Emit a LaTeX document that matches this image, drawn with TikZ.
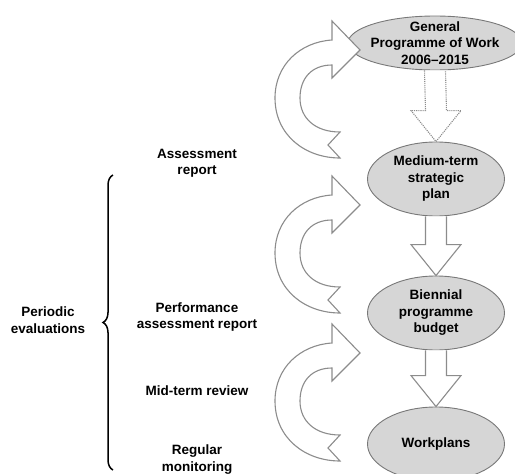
\documentclass[tikz,border=0pt]{standalone}
\usepackage{fontspec}
\setmainfont{Liberation Sans}
\usepackage{tikz}
\usetikzlibrary{shapes.geometric, calc, decorations.pathreplacing}
\definecolor{ovalgray}{RGB}{214,214,214}
\definecolor{edgegray}{RGB}{120,120,120}
\definecolor{arrowgray}{RGB}{140,140,140}

\tikzset{
  oval/.style={ellipse, draw=edgegray, fill=ovalgray, line width=0.9pt,
    inner sep=-4pt, align=center, font=\bfseries\fontsize{13.5}{16.5}\selectfont},
  lbl/.style={align=center, font=\bfseries\fontsize{13.5}{16.5}\selectfont},
  blockarrow/.style={draw=arrowgray, fill=white, line width=1.1pt, line join=miter},
  looparrow/.pic={
    \path[blockarrow] (0,0) -- (-28,29) -- (-28,10)
      .. controls (-60,8) and (-85,-15) .. (-85,-48)
      .. controls (-85,-85) and (-55,-108) .. (-20,-108)
      -- (-32,-95) -- (-20,-82)
      .. controls (-45,-82) and (-60,-68) .. (-60,-48)
      .. controls (-60,-28) and (-48,-15) .. (-28,-15)
      -- (-28,-28) -- cycle;
  }
}

% block arrow from the bottom of one oval to the top of the next
\newcommand{\blockdown}[3]{%
  \path[blockarrow,#1] ($(#2.south)+(-10.5,0)$) -- ($(#3.north)+(-10.5,31)$)
    -- ($(#3.north)+(-25,31)$) -- (#3.north) -- ($(#3.north)+(25,31)$)
    -- ($(#3.north)+(10.5,31)$) -- ($(#2.south)+(10.5,0)$);
}

\begin{document}
\begin{tikzpicture}[x=1pt, y=1pt]
  \useasboundingbox (0,0) rectangle (515,-474);

  % plans
  \node[oval, minimum width=174, minimum height=54] (gpw) at (435,-43)
    {\fontsize{13.5}{13.5}\selectfont General\\Programme of Work\\2006--2015};
  \node[oval, minimum width=137, minimum height=74] (mtsp) at (436,-179) {Medium-term\\strategic\\plan};
  \node[oval, minimum width=137, minimum height=74] (bpb) at (436,-313) {Biennial\\programme\\budget};
  \node[oval, minimum width=137, minimum height=74] (wp) at (436,-444) {Workplans};

  \blockdown{densely dotted}{gpw}{mtsp}
  \foreach \a/\b in {mtsp/bpb, bpb/wp} {
    \blockdown{}{\a}{\b}
  }

  % feedback loops
  \foreach \y in {50, 205, 353} {
    \pic at (360,-\y) {looparrow};
  }

  % evaluations
  \node[lbl] (assess) at (197,-163.5) {Assessment\\report};
  \node[lbl] (perf) at (197,-317) {Performance\\assessment report};
  \node[lbl] (midrev) at (197,-391) {Mid-term review};
  \node[lbl] (regmon) at (197,-459.5) {Regular\\monitoring};
  \node[lbl] (periodic) at (48,-320) {Periodic\\evaluations};

  \coordinate (bracelow) at (113,-470);
  \coordinate (bracehigh) at (113,-175);
  \draw[line width=1.5pt, decorate, decoration={brace, amplitude=10pt}] (bracelow) -- (bracehigh);
\end{tikzpicture}
\end{document}
